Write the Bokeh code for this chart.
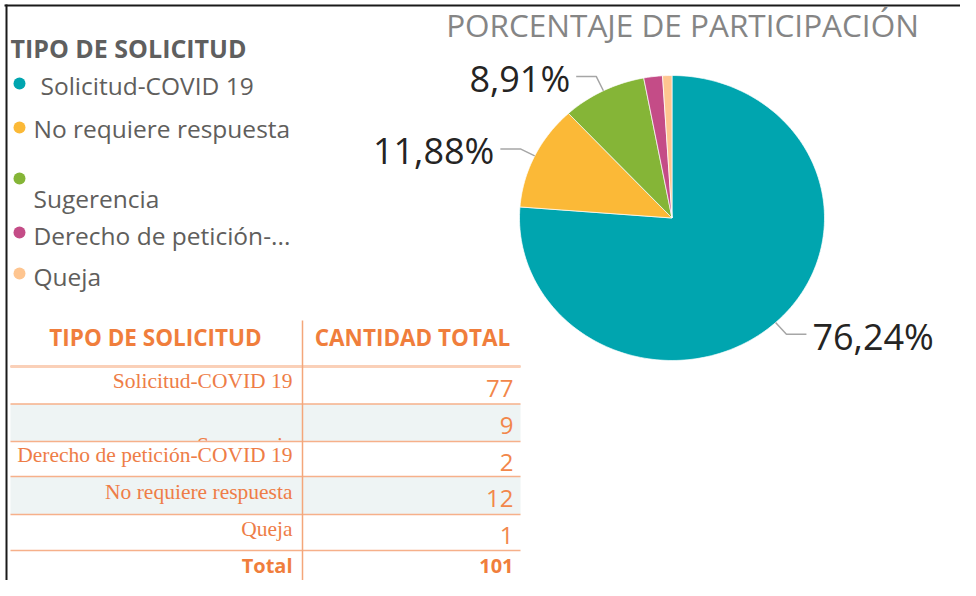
import numpy as np
from bokeh.plotting import figure
from bokeh.models import Range1d
from bokeh.core.properties import value
from bokeh.embed import file_html
from bokeh.resources import INLINE

# ---------------- data ----------------
title = "PORCENTAJE DE PARTICIPACIÓN"
legend_title = "TIPO DE SOLICITUD"
categories = ["Solicitud-COVID 19", "No requiere respuesta", "Sugerencia",
              "Derecho de petición-COVID 19", "Queja"]
counts = [77, 12, 9, 2, 1]
slice_colors = ["#00A5AF", "#FBB937", "#85B537", "#C44C87", "#FEC590"]
legend_labels = ["Solicitud-COVID 19", "No requiere respuesta", "Sugerencia",
                 "Derecho de petición-...", "Queja"]
header_labels = ["TIPO DE SOLICITUD", "CANTIDAD TOTAL"]
table_categories = ["Solicitud-COVID 19", "Sugerencia", "Derecho de petición-COVID 19",
                    "No requiere respuesta", "Queja"]
table_counts = [77, 9, 2, 12, 1]
total_label = "Total"
table_total = 101

# ---------------- figure (data coords == picture pixels) ----------------
p = figure(width=960, height=580, x_range=Range1d(0, 960), y_range=Range1d(580, 0),
           output_backend="svg", toolbar_location=None, min_border=0,
           x_axis_location=None, y_axis_location=None)
p.grid.visible = False
p.outline_line_color = None
p.background_fill_color = "white"

SANS = value("Open Sans")
SERIF = value("Liberation Serif")

# frame lines
p.segment(x0=[4, 6], y0=[5, 4], x1=[960, 6], y1=[5, 580], line_color="#1a1a1a", line_width=2)

# ---------------- pie ----------------
cx, cy, rx, ry = 671.5, 217.5, 152.5, 142.5
tot = float(sum(counts))
fr = np.array(counts) / tot
ends = np.cumsum(fr) * 2 * np.pi
starts = ends - fr * 2 * np.pi
xs, ys = [], []
for s, e in zip(starts, ends):
    t = np.linspace(s, e, max(4, int(240 * (e - s) / (2 * np.pi)) + 2))
    xs.append([cx] + list(cx + rx * np.sin(t)))
    ys.append([cy] + list(cy - ry * np.cos(t)))
p.patches(xs, ys, fill_color=slice_colors, line_color="white", line_width=0.7)

lx, ly, lab_x, lab_y, lab_t, lab_al = [], [], [], [], [], []
for f, s, e in zip(fr, starts, ends):
    if f < 0.05:
        continue
    m = (s + e) / 2
    dx, dy = np.sin(m), -np.cos(m)
    ex, ey = cx + rx * dx, cy + ry * dy
    bx, by = ex + 16 * dx, ey + 16 * dy
    side = 1 if dx > 0 else -1
    hx = bx + side * 20
    lx.append([ex, bx, hx]); ly.append([ey, by, by])
    lab_x.append(hx + side * 6); lab_y.append(by + 2)
    lab_t.append(f"{f * 100:.2f}".replace(".", ",") + "%")
    lab_al.append("left" if side > 0 else "right")
p.multi_line(lx, ly, line_color="#A6A6A6", line_width=1.5)
for x, y, t, a in zip(lab_x, lab_y, lab_t, lab_al):
    p.text(x=[x], y=[y], text=[t], text_align=a, text_baseline="middle",
           text_font=SANS, text_font_size="36px", text_color="#252423")

p.text(x=[682], y=[24], text=[title], text_align="center", text_baseline="middle",
       text_font=SANS, text_font_size="31.5px", text_color="#858585")

# ---------------- legend ----------------
p.text(x=[10], y=[47], text=[legend_title], text_baseline="middle", text_font=SANS,
       text_font_style="bold", text_font_size="25px", text_color="#5F5F5F")
dot_y = [83, 127, 178, 232, 273]
txt_x = [40, 33, 33, 33, 33]
txt_y = [85, 128, 198, 235, 276]
p.scatter(x=[19] * len(dot_y), y=dot_y, size=12, fill_color=slice_colors, line_color=None)
p.text(x=txt_x, y=txt_y, text=legend_labels, text_baseline="middle", text_font=SANS,
       text_font_size="24.5px", text_color="#605E5C")

# ---------------- table ----------------
ORANGE = "#F07E3C"
x0, xdiv, x1 = 10, 302, 520
row_lines = [366, 403.5, 441, 476, 514, 550]
band_colors = ["white", "#EEF4F4", "white", "#EEF4F4", "white"]
text_dy = [-4, 22, -4, -4, -4]
for i, (cat, cnt) in enumerate(zip(table_categories, table_counts)):
    top, bot = row_lines[i], row_lines[i + 1]
    p.quad(left=[x0], right=[x1], top=[top], bottom=[bot], fill_color=band_colors[i], line_color=None)
    mid = (top + bot) / 2
    p.text(x=[292], y=[mid + text_dy[i]], text=[cat], text_align="right", text_baseline="middle",
           text_font=SERIF, text_font_size="21.5px", text_color="#EE7D47")
    p.text(x=[513], y=[mid + 3], text=[str(cnt)], text_align="right", text_baseline="middle",
           text_font=SANS, text_font_size="24px", text_color="#F2874A")

p.segment(x0=[x0] * len(row_lines), x1=[x1] * len(row_lines), y0=row_lines, y1=row_lines,
          line_color="#F6B08A", line_width=1.6)
p.segment(x0=[x0], x1=[x1], y0=[row_lines[0]], y1=[row_lines[0]], line_color="#FAD0B8", line_width=3)
p.segment(x0=[xdiv], x1=[xdiv], y0=[320], y1=[585], line_color="#F4A67A", line_width=1.5)

p.text(x=[155, 412], y=[337, 337], text=header_labels, text_align="center", text_baseline="middle",
       text_font=SANS, text_font_style="bold", text_font_size="22.5px", text_color=ORANGE)
p.text(x=[292, 513], y=[565, 565], text=[total_label, str(table_total)], text_align="right",
       text_baseline="middle", text_font=SANS, text_font_style="bold", text_font_size="20px",
       text_color=ORANGE)

open("out.html", "w").write(file_html(p, INLINE))
